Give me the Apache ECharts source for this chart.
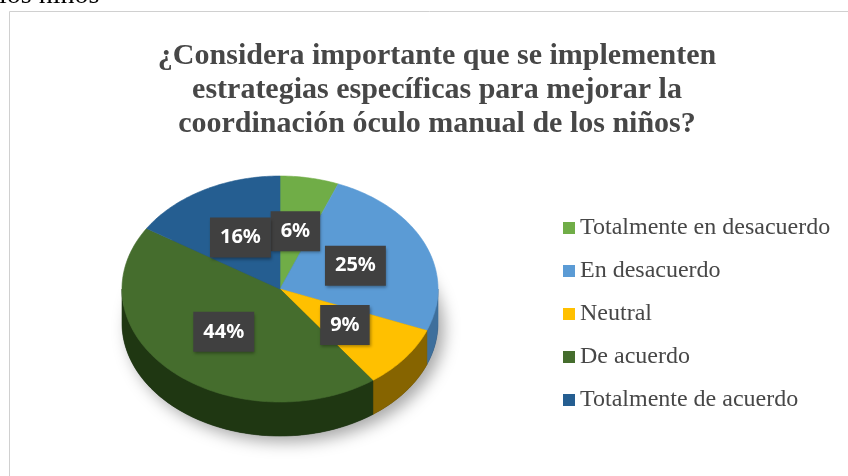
<!DOCTYPE html>
<html>
<head>
<meta charset="utf-8">
<title>Coordinación óculo manual</title>
<style>
  html, body { margin: 0; padding: 0; background: #fff; }
  #chart { width: 848px; height: 476px; }
</style>
</head>
<body>
<div id="chart"></div>
<script src="https://cdn.jsdelivr.net/npm/echarts@6/dist/echarts.min.js"></script>
<script>
// datos
var categories = ['Totalmente en desacuerdo', 'En desacuerdo', 'Neutral', 'De acuerdo', 'Totalmente de acuerdo'];
var percents = [6, 25, 9, 44, 16];
var titleText = '¿Considera importante que se implementen\nestrategias específicas para mejorar la\ncoordinación óculo manual de los niños?';

var topColors = ['#70AD47', '#5B9BD5', '#FFC000', '#456D2D', '#255E91'];
var sideColors = ['#4C7A30', '#3E6F9C', '#866400', '#1F3712', '#17405F'];

var serif = '"Liberation Serif", "Times New Roman", serif';

// pastel 3D: elipse superior + canto
var pie = { cx: 280, cy: 289, rx: 158, ry: 113, depth: 34, labelR: 0.52 };
var total = percents.reduce(function (a, b) { return a + b; }, 0);

function pt(a, dy) {
  return [pie.cx + pie.rx * Math.sin(a), pie.cy - pie.ry * Math.cos(a) + (dy || 0)];
}
function arc(a0, a1, dy) {
  var n = Math.max(2, Math.ceil((a1 - a0) / (Math.PI / 180)));
  var pts = [];
  for (var k = 0; k <= n; k++) pts.push(pt(a0 + (a1 - a0) * k / n, dy));
  return pts;
}

function renderSlice(params, api) {
  var i = params.seriesIndex;
  var before = 0;
  for (var k = 0; k < i; k++) before += percents[k];
  var val = api.value(0);
  var a0 = before / total * 2 * Math.PI;
  var a1 = (before + val) / total * 2 * Math.PI;
  var children = [];

  if (i === 0) {
    // sombra bajo el pastel
    children.push({
      type: 'ellipse',
      shape: { cx: pie.cx, cy: pie.cy + pie.depth, rx: pie.rx, ry: pie.ry },
      style: {
        fill: '#333',
        shadowBlur: 16,
        shadowColor: 'rgba(0,0,0,0.35)',
        shadowOffsetX: 6,
        shadowOffsetY: 6
      }
    });
  }

  // canto visible (mitad inferior)
  var s0 = Math.max(a0, Math.PI / 2), s1 = Math.min(a1, 3 * Math.PI / 2);
  if (s1 > s0) {
    var up = arc(s0, s1, 0);
    var down = arc(s0, s1, pie.depth).reverse();
    children.push({
      type: 'polygon',
      shape: { points: up.concat(down) },
      style: { fill: sideColors[i], stroke: sideColors[i], lineWidth: 0.6 }
    });
  }

  // cara superior
  children.push({
    type: 'polygon',
    shape: { points: [[pie.cx, pie.cy]].concat(arc(a0, a1, 0)) },
    style: { fill: topColors[i], stroke: topColors[i], lineWidth: 0.6 }
  });

  // etiqueta
  var m = (a0 + a1) / 2;
  children.push({
    type: 'text',
    x: pie.cx + pie.rx * pie.labelR * Math.sin(m),
    y: pie.cy - pie.ry * pie.labelR * Math.cos(m),
    z2: 100,
    style: {
      text: val + '%',
      fill: '#fff',
      font: 'bold 20px "Noto Sans"',
      align: 'center',
      verticalAlign: 'middle',
      lineHeight: 24,
      backgroundColor: '#404040',
      padding: [8, 10],
      shadowBlur: 3,
      shadowColor: 'rgba(0,0,0,0.35)',
      shadowOffsetX: 1,
      shadowOffsetY: 2
    }
  });

  return { type: 'group', children: children };
}

var chart = echarts.init(document.getElementById('chart'));

var option = {
  animation: false,
  color: topColors,
  title: {
    text: titleText,
    left: 432,
    textAlign: 'center',
    top: 34,
    textStyle: {
      fontFamily: serif,
      fontWeight: 'bold',
      fontSize: 30,
      lineHeight: 34,
      color: '#474747'
    }
  },
  legend: {
    orient: 'vertical',
    left: 558,
    top: 211,
    icon: 'rect',
    itemWidth: 12,
    itemHeight: 12,
    itemGap: 19,
    textStyle: {
      fontFamily: serif,
      fontSize: 24,
      lineHeight: 24,
      color: '#474747'
    },
    data: categories
  },
  graphic: [
    {
      type: 'rect',
      silent: true,
      shape: { x: 9.5, y: 11.5, width: 900, height: 520 },
      style: { fill: 'none', stroke: '#d0d0d0', lineWidth: 1 }
    },
    {
      type: 'text',
      silent: true,
      x: -1,
      y: -4,
      style: {
        text: 'los niños',
        font: '28px ' + serif,
        fill: '#000',
        verticalAlign: 'middle'
      }
    }
  ],
  series: categories.map(function (name, i) {
    return {
      type: 'custom',
      name: name,
      coordinateSystem: 'none',
      silent: true,
      itemStyle: { color: topColors[i] },
      renderItem: renderSlice,
      data: [[percents[i]]]
    };
  })
};

chart.setOption(option);
</script>
</body>
</html>
